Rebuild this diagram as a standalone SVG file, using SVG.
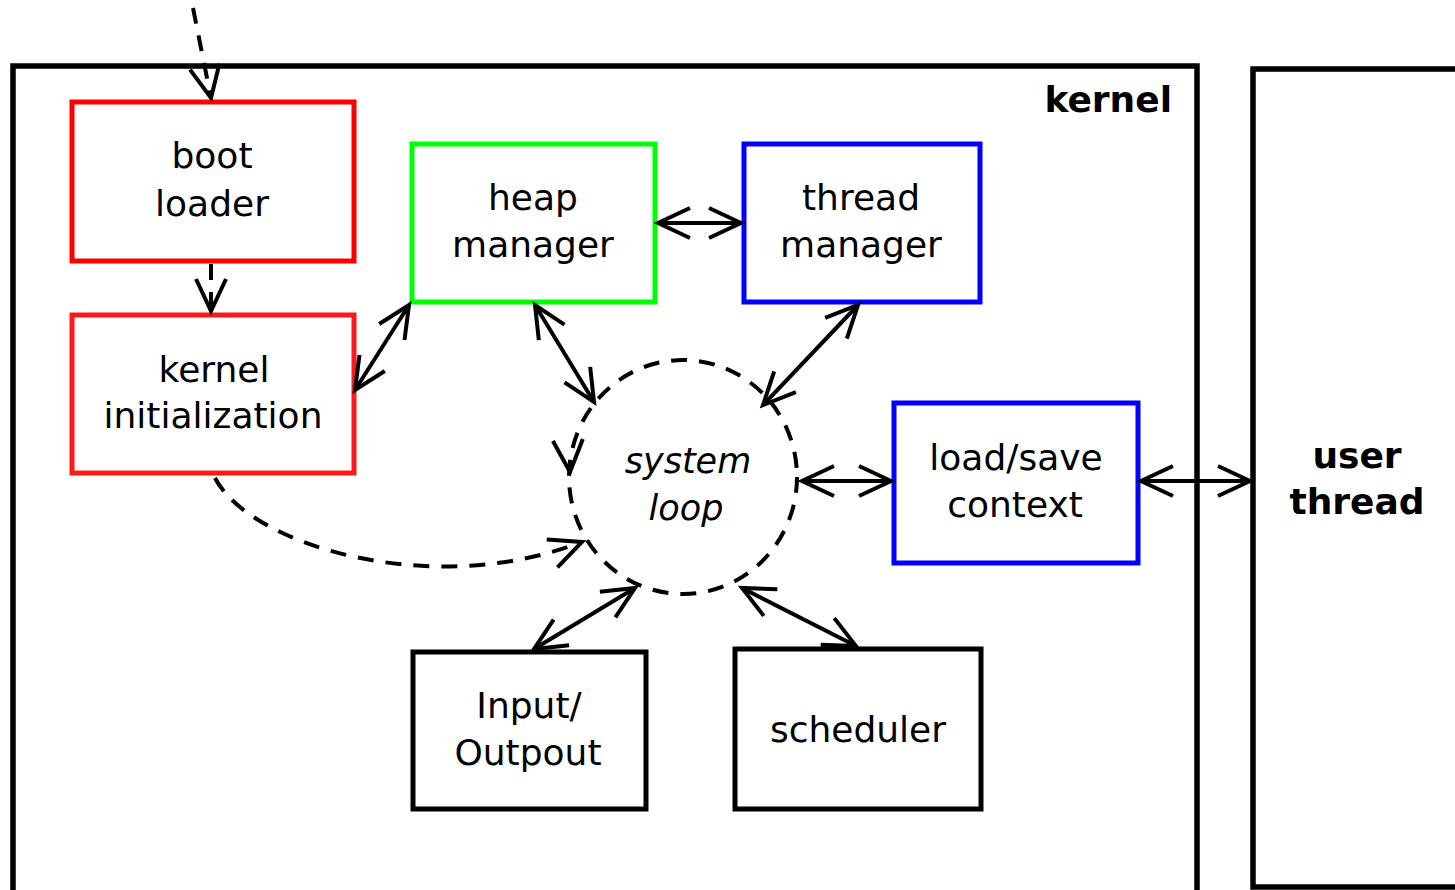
<svg xmlns="http://www.w3.org/2000/svg" width="1455" height="890" viewBox="0 0 1455 890">
<style>
.box{fill:#fff;stroke-width:5}
.frame{fill:none;stroke:#000;stroke-width:5.5}
.t{font-family:"DejaVu Sans",sans-serif;font-size:36px;fill:#000;text-anchor:middle}
.b{font-weight:bold}
.i{font-style:italic;font-size:35px}
.c{fill:none;stroke:#000;stroke-width:4}
.d{stroke-dasharray:16 12}
</style>
<defs>
<marker id="ah" markerUnits="userSpaceOnUse" markerWidth="42" markerHeight="40" viewBox="-37 -20 42 40" refX="0" refY="0" orient="auto-start-reverse" overflow="visible">
<path d="M-32,-15 L0,0 L-32,15" fill="none" stroke="#000" stroke-width="4"/>
</marker>
</defs>
<rect width="1455" height="890" fill="#fff"/>
<g id="kernel">
<rect class="frame" x="13" y="66" width="1184" height="900"/>
<text class="t b" x="1172" y="112" style="text-anchor:end">kernel</text>
</g>
<g id="user-thread">
<rect class="frame" x="1253" y="69" width="300" height="818"/>
<text class="t b" x="1357" y="468">user</text>
<text class="t b" x="1357" y="514">thread</text>
</g>
<g id="system-loop">
<ellipse cx="683" cy="477" rx="114" ry="117" class="c d"/>
<text class="t i" x="688" y="473">system</text>
<text class="t i" x="686" y="520">loop</text>
</g>
<g id="boot-loader">
<rect class="box" x="72" y="102" width="282" height="159" stroke="#ff0000"/>
<text class="t" x="212" y="168">boot</text>
<text class="t" x="212" y="216">loader</text>
</g>
<g id="kernel-initialization">
<rect class="box" x="72" y="315" width="282" height="158" stroke="#ff1a1a"/>
<text class="t" x="214" y="382">kernel</text>
<text class="t" x="213" y="428">initialization</text>
</g>
<g id="heap-manager">
<rect class="box" x="412" y="144" width="243" height="158" stroke="#00ff00"/>
<text class="t" x="533" y="210">heap</text>
<text class="t" x="533" y="257">manager</text>
</g>
<g id="thread-manager">
<rect class="box" x="744" y="144" width="236" height="158" stroke="#0000ff"/>
<text class="t" x="861" y="210">thread</text>
<text class="t" x="861" y="257">manager</text>
</g>
<g id="load-save-context">
<rect class="box" x="894" y="403" width="244" height="160" stroke="#0000ff"/>
<text class="t" x="1016" y="470">load/save</text>
<text class="t" x="1015" y="517">context</text>
</g>
<g id="input-output">
<rect class="box" x="413" y="652" width="233" height="157" stroke="#000"/>
<text class="t" x="529" y="718">Input/</text>
<text class="t" x="528" y="765">Outpout</text>
</g>
<g id="scheduler">
<rect class="box" x="735" y="649" width="246" height="160" stroke="#000"/>
<text class="t" x="858" y="742">scheduler</text>
</g>
<g id="connectors">
<path class="c d" d="M193,8 L211,98" marker-end="url(#ah)"/>
<path class="c d" d="M211,264 L211,311" marker-end="url(#ah)"/>
<path class="c d" d="M215,478 C250,545 430,600 582,542" marker-end="url(#ah)"/>
<path class="c" d="M569.6,466 L570,472" marker-end="url(#ah)"/>
<path class="c" d="M658,223 L741,223" marker-start="url(#ah)" marker-end="url(#ah)"/>
<path class="c" d="M355,390 L409,305" marker-start="url(#ah)" marker-end="url(#ah)"/>
<path class="c" d="M535,305 L594,402" marker-start="url(#ah)" marker-end="url(#ah)"/>
<path class="c" d="M858,305 L763,405" marker-start="url(#ah)" marker-end="url(#ah)"/>
<path class="c" d="M802,481 L891,481" marker-start="url(#ah)" marker-end="url(#ah)"/>
<path class="c" d="M1141,481 L1250,481" marker-start="url(#ah)" marker-end="url(#ah)"/>
<path class="c" d="M635,588 L534,649" marker-start="url(#ah)" marker-end="url(#ah)"/>
<path class="c" d="M742,588 L856,646" marker-start="url(#ah)" marker-end="url(#ah)"/>
</g>
</svg>
